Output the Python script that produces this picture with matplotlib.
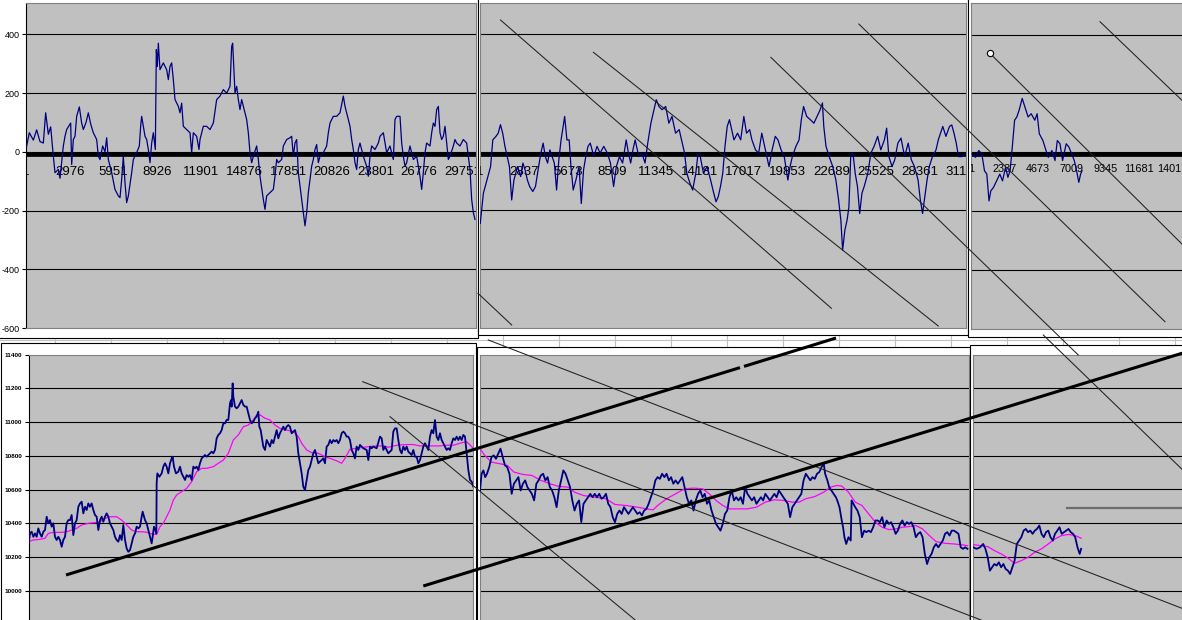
import matplotlib
matplotlib.use("Agg")
import matplotlib.pyplot as plt
from matplotlib.patches import Rectangle

plt.rcParams['font.family'] = ['Liberation Sans', 'DejaVu Sans']
plt.rcParams['axes.unicode_minus'] = False

W, H = 1182, 620

# === Data: (bar index, value) ===
osc_left = [(45,20),(227,65),(499,40),(726,75),(953,35),(1180,30),(1339,133),(1521,60),(1680,85),(1861,-15),(1975,-71),(2202,-60),(2315,-90),(2542,20),(2656,53),(2769,76),(3042,98),(3110,-43),(3223,42),(3337,53),(3450,121),(3632,153),(3791,98),(3904,76),(4086,100),(4245,133),(4404,95),(4585,65),(4812,42),(4926,-15),(5039,-26),(5221,20),(5380,0),(5493,48),(5607,-26),(5834,-71),(6061,-128),(6288,-150),(6401,-156),(6515,-94),(6628,-15),(6742,-105),(6855,-173),(6969,-150),(7196,-71),(7309,-26),(7536,-3),(7718,20),(7809,87),(7877,121),(7990,87),(8104,53),(8217,42),(8331,8),(8444,-37),(8558,30),(8671,65),(8808,8),(8876,348),(8944,291),(9012,370),(9125,280),(9352,303),(9466,291),(9579,280),(9693,246),(9806,291),(9920,303),(10033,246),(10147,178),(10374,155),(10487,133),(10601,166),(10714,87),(10941,76),(11168,65),(11282,-3),(11395,65),(11622,53),(11781,8),(11849,42),(12076,87),(12303,87),(12530,76),(12757,98),(12984,178),(13211,190),(13438,212),(13665,200),(13892,223),(14006,359),(14074,370),(14233,200),(14346,223),(14460,178),(14573,144),(14687,178),(14914,133),(15027,110),(15141,65),(15254,-3),(15368,-37),(15481,-15),(15708,20),(15822,-26),(15935,-83),(16162,-162),(16276,-196),(16389,-150),(16616,-139),(16843,-128),(16957,-83),(17070,-26),(17184,-37),(17411,-26),(17524,20),(17751,42),(17978,48),(18092,53),(18205,-15),(18319,30),(18432,42),(18546,-71),(18659,-117),(18773,-162),(18886,-207),(19000,-252),(19113,-207),(19227,-139),(19340,-94),(19454,-49),(19567,-26),(19681,8),(19794,25),(19908,-37),(20021,-15),(20248,-3),(20475,20),(20589,65),(20702,98),(20929,121),(21156,121),(21383,133),(21610,190),(21724,155),(21837,133),(21951,110),(22064,87),(22178,42),(22291,8),(22405,-37),(22518,-60),(22632,8),(22745,30),(22972,-15),(23199,-49),(23313,-83),(23426,-15),(23540,20),(23767,8),(23994,30),(24107,53),(24334,65),(24448,30),(24561,-3),(24788,20),(25015,-26),(25129,110),(25242,121),(25469,121),(25583,30),(25696,-15),(25810,-49),(25923,-37),(26150,20),(26377,-26),(26604,-15),(26718,-49),(26831,-83),(26945,-128),(27058,-71),(27172,-3),(27285,30),(27512,20),(27626,65),(27739,98),(27853,87),(27966,144),(28080,155),(28193,65),(28307,42),(28420,53),(28534,87),(28647,30),(28761,-26),(28874,-15),(29101,20),(29215,42),(29328,30),(29555,20),(29782,42),(30009,30),(30123,-15),(30236,-60),(30350,-162),(30463,-207),(30577,-230)]

osc_mid = [(16,-245),(218,-142),(450,-97),(682,-51),(826,40),(1029,52),(1174,63),(1319,92),(1463,63),(1608,18),(1753,-17),(1898,-51),(2042,-165),(2187,-97),(2419,-51),(2621,-85),(2766,-39),(2911,-63),(3056,-97),(3200,-119),(3403,-136),(3577,-119),(3779,-51),(3924,-5),(4069,29),(4214,-17),(4358,-39),(4503,6),(4648,-17),(4793,-39),(4937,-131),(5082,-28),(5227,40),(5458,120),(5603,40),(5748,40),(5864,-51),(6008,-131),(6182,-97),(6385,-51),(6530,-177),(6674,-63),(6819,-17),(6964,18),(7109,29),(7340,-17),(7543,18),(7745,-5),(7977,18),(8209,-5),(8411,-39),(8614,-119),(8788,-51),(8990,-17),(9193,-39),(9425,40),(9569,-5),(9714,-39),(9859,6),(10004,40),(10235,-17),(10438,-5),(10640,-39),(10814,29),(11017,97),(11219,143),(11364,177),(11538,154),(11741,143),(11972,154),(12175,97),(12377,120),(12609,63),(12841,75),(13043,29),(13188,-5),(13333,-74),(13535,-108),(13709,-131),(13912,-74),(14057,-5),(14201,-17),(14404,-74),(14636,-51),(14867,-97),(15070,-142),(15215,-171),(15359,-154),(15504,-119),(15649,-74),(15794,18),(15938,86),(16083,109),(16228,75),(16373,40),(16604,63),(16807,40),(17009,120),(17183,63),(17386,75),(17531,40),(17762,6),(17965,-5),(18167,63),(18399,6),(18631,-51),(18833,6),(19036,52),(19210,40),(19412,6),(19615,-17),(19847,-97),(19991,-51),(20136,-17),(20368,18),(20570,40),(20715,109),(20860,154),(21062,120),(21294,109),(21526,97),(21728,120),(21931,143),(22076,166),(22163,86),(22307,18),(22510,-17),(22742,-51),(22944,-97),(23118,-165),(23263,-233),(23378,-336),(23523,-268),(23668,-233),(23784,-188),(23900,-17),(24044,-5),(24189,-74),(24334,-119),(24479,-211),(24623,-142),(24768,-119),(25000,-74),(25202,-5),(25405,18),(25637,52),(25839,6),(26071,40),(26216,80),(26360,-17),(26563,-51),(26737,-28),(26939,29),(27142,46),(27374,-17),(27605,29),(27808,-28),(28010,-51),(28242,-97),(28387,-165),(28532,-211),(28676,-154),(28821,-97),(28966,-51),(29169,-17),(29400,6),(29545,40),(29690,63),(29835,86),(30037,52),(30269,86),(30414,91),(30558,63),(30703,29),(30848,-17),(31080,-17),(31282,-5)]

osc_right = [(63,-5),(313,-17),(536,6),(752,-5),(940,-63),(1100,-74),(1253,-165),(1378,-131),(1566,-119),(1782,-97),(2004,-74),(2192,-97),(2408,-51),(2568,-85),(2721,-63),(2874,18),(3035,109),(3188,120),(3348,143),(3564,183),(3751,154),(3974,120),(4190,131),(4440,109),(4600,131),(4754,63),(5004,40),(5220,6),(5380,-17),(5630,6),(5846,-28),(6006,40),(6194,29),(6375,-28),(6626,29),(6814,18),(7002,-5),(7189,-28),(7350,-63),(7503,-102),(7628,-74),(7726,-63)]

price_left = [(182,10281),(272,10340),(386,10350),(499,10320),(613,10340),(726,10320),(840,10370),(953,10340),(1067,10320),(1180,10350),(1294,10360),(1407,10439),(1521,10400),(1634,10419),(1748,10380),(1861,10400),(1975,10320),(2088,10301),(2202,10320),(2315,10301),(2429,10261),(2542,10301),(2656,10320),(2769,10400),(2883,10419),(2996,10419),(3110,10449),(3223,10330),(3337,10400),(3450,10419),(3564,10498),(3677,10518),(3791,10528),(3904,10459),(4018,10498),(4131,10479),(4245,10518),(4358,10498),(4472,10518),(4585,10479),(4699,10449),(4812,10439),(4926,10360),(5039,10419),(5153,10439),(5266,10409),(5380,10439),(5493,10459),(5607,10439),(5720,10400),(5834,10380),(5947,10360),(6061,10320),(6174,10301),(6288,10291),(6401,10330),(6515,10301),(6628,10390),(6742,10301),(6855,10251),(6969,10231),(7082,10241),(7196,10281),(7309,10320),(7423,10340),(7536,10380),(7650,10370),(7763,10380),(7877,10439),(7945,10469),(8104,10419),(8217,10400),(8331,10360),(8444,10320),(8558,10281),(8626,10320),(8717,10380),(8808,10360),(8876,10340),(8898,10637),(8944,10696),(9080,10676),(9239,10696),(9352,10736),(9466,10756),(9579,10736),(9693,10696),(9806,10756),(9920,10785),(9988,10795),(10079,10736),(10215,10696),(10374,10706),(10487,10736),(10601,10696),(10714,10676),(10828,10657),(10941,10686),(11055,10676),(11168,10686),(11282,10657),(11395,10736),(11509,10726),(11622,10736),(11736,10716),(11849,10756),(11963,10785),(12076,10795),(12190,10805),(12303,10795),(12417,10805),(12530,10815),(12644,10825),(12757,10815),(12871,10835),(12984,10904),(13098,10924),(13211,10934),(13325,10953),(13438,10993),(13552,10993),(13665,11013),(13779,11013),(13892,11112),(13960,11131),(14006,11092),(14074,11230),(14119,11151),(14233,11092),(14346,11082),(14460,11092),(14573,11112),(14687,11131),(14800,11102),(14914,11092),(15027,11092),(15141,11052),(15254,11013),(15368,10993),(15481,11003),(15595,11023),(15708,11033),(15822,11062),(15890,10973),(15981,10953),(16094,10894),(16162,10855),(16276,10835),(16389,10894),(16503,10875),(16616,10855),(16730,10894),(16843,10875),(16957,10914),(17070,10953),(17184,10904),(17297,10934),(17411,10953),(17524,10973),(17638,10953),(17751,10973),(17865,10983),(17978,10973),(18092,10934),(18205,10944),(18319,10953),(18432,10914),(18546,10815),(18659,10756),(18773,10696),(18886,10617),(19000,10597),(19113,10657),(19227,10716),(19340,10736),(19454,10775),(19567,10815),(19681,10835),(19794,10795),(19908,10756),(20021,10766),(20135,10775),(20248,10785),(20362,10756),(20475,10855),(20589,10865),(20702,10894),(20816,10875),(20929,10894),(21043,10885),(21156,10894),(21270,10875),(21383,10894),(21497,10934),(21610,10944),(21724,10934),(21837,10914),(21951,10914),(22064,10894),(22178,10835),(22291,10815),(22405,10785),(22518,10855),(22632,10835),(22745,10865),(22972,10845),(23199,10835),(23313,10775),(23426,10855),(23540,10845),(23653,10855),(23880,10845),(24107,10914),(24221,10904),(24334,10835),(24448,10855),(24561,10835),(24675,10815),(24788,10825),(24902,10835),(25015,10944),(25129,10963),(25242,10963),(25356,10894),(25469,10835),(25583,10815),(25696,10855),(25810,10835),(25923,10855),(26037,10825),(26150,10815),(26264,10805),(26377,10835),(26491,10795),(26604,10795),(26718,10756),(26831,10775),(26945,10815),(27058,10855),(27172,10875),(27285,10855),(27399,10835),(27512,10914),(27626,10953),(27739,10934),(27853,11013),(27966,10914),(28080,10894),(28193,10934),(28307,10894),(28420,10875),(28534,10855),(28647,10835),(28761,10845),(28874,10835),(28988,10875),(29101,10904),(29215,10894),(29328,10914),(29442,10894),(29555,10914),(29669,10894),(29782,10924),(29896,10914),(30009,10815),(30123,10716),(30236,10657),(30350,10647),(30463,10617)]

avg_left = [(182,10291),(499,10301),(953,10305),(1294,10311),(1521,10340),(1861,10346),(2429,10346),(2769,10350),(3110,10360),(3450,10370),(3791,10390),(4245,10400),(4699,10404),(5039,10409),(5380,10429),(5720,10439),(6174,10439),(6515,10419),(6855,10390),(7196,10360),(7536,10350),(7990,10350),(8331,10344),(8671,10334),(8898,10334),(9125,10380),(9352,10400),(9579,10439),(9806,10479),(10033,10538),(10260,10568),(10601,10588),(10941,10607),(11282,10647),(11622,10706),(11963,10726),(12303,10726),(12757,10736),(13098,10756),(13438,10775),(13779,10815),(14119,10894),(14460,10924),(14800,10973),(15141,10983),(15481,11013),(15708,11043),(15935,11043),(16276,11023),(16616,11013),(16957,10983),(17297,10963),(17751,10953),(18205,10944),(18546,10914),(18773,10875),(19113,10835),(19454,10819),(19908,10815),(20362,10795),(20702,10785),(21156,10771),(21497,10756),(21724,10785),(22064,10839),(22518,10845),(22972,10851),(23426,10855),(23880,10859),(24334,10859),(24675,10851),(25015,10859),(25469,10865),(25923,10867),(26377,10867),(26831,10859),(27285,10859),(27739,10859),(28193,10859),(28647,10863),(29101,10863),(29555,10875),(30009,10884),(30463,10845)]

price_mid = [(0,10594),(103,10693),(218,10713),(334,10673),(450,10693),(595,10733),(740,10792),(884,10802),(1029,10782),(1174,10812),(1319,10842),(1463,10792),(1608,10743),(1753,10733),(1898,10693),(2042,10574),(2187,10634),(2332,10654),(2477,10673),(2621,10594),(2766,10634),(2911,10654),(3056,10614),(3200,10594),(3345,10574),(3490,10535),(3635,10634),(3779,10654),(3924,10683),(4069,10693),(4214,10654),(4358,10673),(4503,10614),(4648,10594),(4793,10554),(4937,10495),(5082,10594),(5227,10654),(5372,10713),(5516,10693),(5661,10654),(5806,10614),(5951,10535),(6095,10475),(6240,10515),(6385,10535),(6530,10406),(6674,10515),(6819,10535),(6964,10554),(7109,10574),(7253,10554),(7398,10574),(7543,10554),(7688,10574),(7832,10545),(7977,10554),(8122,10574),(8267,10515),(8411,10495),(8556,10436),(8701,10406),(8846,10455),(8990,10475),(9135,10455),(9280,10495),(9425,10475),(9569,10455),(9714,10475),(9859,10495),(10004,10475),(10148,10455),(10293,10465),(10438,10446),(10583,10475),(10727,10485),(10872,10515),(11017,10554),(11162,10594),(11306,10654),(11451,10673),(11596,10663),(11741,10693),(11885,10673),(12030,10693),(12175,10654),(12320,10673),(12464,10634),(12609,10654),(12754,10634),(12899,10654),(13043,10673),(13188,10614),(13333,10554),(13478,10515),(13622,10535),(13767,10475),(13912,10535),(14057,10574),(14201,10594),(14346,10554),(14491,10574),(14636,10515),(14780,10535),(14925,10475),(15070,10436),(15215,10396),(15359,10376),(15504,10356),(15649,10396),(15794,10455),(15938,10475),(16083,10554),(16228,10594),(16373,10535),(16517,10554),(16662,10535),(16807,10554),(16952,10515),(17096,10614),(17241,10574),(17386,10554),(17531,10535),(17675,10554),(17820,10515),(17965,10535),(18110,10554),(18254,10535),(18399,10574),(18544,10554),(18689,10535),(18833,10554),(18978,10574),(19123,10554),(19268,10594),(19412,10574),(19557,10554),(19702,10535),(19847,10515),(19991,10436),(20136,10495),(20281,10515),(20426,10535),(20570,10554),(20715,10574),(20860,10654),(21005,10693),(21149,10673),(21294,10654),(21439,10673),(21584,10663),(21728,10693),(21873,10703),(22018,10733),(22163,10752),(22250,10693),(22394,10654),(22510,10614),(22655,10594),(22799,10574),(22944,10554),(23031,10535),(23176,10495),(23321,10416),(23408,10376),(23494,10317),(23610,10277),(23755,10317),(23900,10297),(23957,10535),(24073,10515),(24189,10495),(24334,10475),(24479,10436),(24623,10317),(24768,10356),(24913,10347),(25058,10356),(25202,10347),(25347,10376),(25492,10416),(25637,10416),(25781,10406),(25926,10436),(26071,10376),(26216,10416),(26360,10396),(26505,10406),(26650,10376),(26795,10337),(26939,10356),(27084,10396),(27229,10416),(27374,10386),(27518,10406),(27663,10396),(27808,10406),(27953,10376),(28097,10317),(28242,10337),(28387,10347),(28532,10317),(28676,10218),(28821,10158),(28966,10198),(29111,10218),(29255,10257),(29400,10277),(29545,10257),(29690,10277),(29835,10297),(29979,10337),(30124,10347),(30269,10327),(30414,10356),(30558,10356),(30703,10347),(30848,10337),(30992,10257),(31137,10248),(31282,10257),(31427,10248)]

avg_mid = [(0,10842),(305,10802),(740,10762),(1319,10752),(1753,10743),(2187,10703),(2766,10689),(3345,10683),(3924,10654),(4503,10634),(5082,10618),(5661,10614),(6095,10584),(6674,10564),(7398,10554),(8122,10545),(8701,10511),(9425,10505),(10148,10495),(10727,10485),(11162,10479),(11451,10505),(12030,10545),(12609,10574),(13188,10604),(13767,10608),(14346,10604),(14780,10574),(15215,10535),(15649,10505),(16083,10485),(16662,10485),(17241,10485),(17820,10495),(18399,10525),(18978,10539),(19557,10535),(20136,10525),(20570,10525),(21005,10545),(21584,10558),(22163,10584),(22597,10614),(23031,10624),(23321,10620),(23755,10584),(24189,10525),(24623,10505),(25058,10455),(25492,10406),(25926,10376),(26360,10362),(26795,10366),(27229,10376),(27663,10380),(28097,10386),(28532,10366),(28966,10327),(29400,10291),(29979,10281),(30558,10277),(31137,10271),(31427,10267)]

price_right = [(160,10257),(378,10248),(628,10257),(847,10277),(1002,10248),(1162,10198),(1316,10119),(1471,10139),(1627,10158),(1782,10149),(1939,10168),(2095,10139),(2255,10158),(2408,10129),(2568,10119),(2721,10099),(2881,10139),(3035,10178),(3188,10277),(3348,10297),(3501,10317),(3661,10356),(3814,10366),(3974,10347),(4127,10356),(4287,10337),(4440,10356),(4594,10366),(4754,10386),(4907,10337),(5067,10317),(5220,10347),(5380,10356),(5533,10317),(5693,10297),(5846,10337),(6006,10356),(6160,10376),(6313,10337),(6473,10347),(6626,10356),(6786,10366),(6939,10347),(7099,10337),(7252,10317),(7412,10257),(7565,10218),(7663,10248)]

avg_right = [(160,10273),(689,10267),(1162,10261),(1627,10238),(2095,10218),(2568,10194),(3035,10162),(3501,10178),(3974,10198),(4440,10228),(4907,10248),(5380,10277),(5846,10307),(6313,10327),(6786,10333),(7252,10327),(7663,10311)]

cat_left = [1, 2976, 5951, 8926, 11901, 14876, 17851, 20826, 23801, 26776, 29751]
cat_mid = [1, 2837, 5673, 8509, 11345, 14181, 17017, 19853, 22689, 25525, 28361, 31197]
cat_right = [1, 2337, 4673, 7009, 9345, 11681, 14017, 16353]
osc_ticks = [-600, -400, -200, 0, 200, 400]
price_ticks = [10000, 10200, 10400, 10600, 10800, 11000, 11200, 11400]

# hand drawn trend lines on the sheet, screen pixels (x0, y0, x1, y1)
thin_lines = [(500.5, 20, 831.4, 308.3), (593.4, 52.3, 938.3, 326), (770.8, 57.3, 1078.3, 355),
              (858.8, 24, 1165, 321.7), (989.9, 53.3, 1190, 252), (1100, 21.7, 1190, 108),
              (478, 293.3, 511.7, 325), (488.3, 340, 1190, 611.4), (362.7, 381.7, 981, 620),
              (390, 416.7, 635.2, 620), (1043.3, 335, 1190, 477)]
thick_lines = [(66, 575, 740, 367.6), (744, 366.4, 836, 338), (423.3, 586, 1190, 350.8)]
grey_lines = [(1067, 507.7, 1182, 507.7)]
circle_pt = (989.9, 53.3)

fig = plt.figure(figsize=(W / 100, H / 100), dpi=100)
fig.patch.set_facecolor('white')

# === sheet cell grid behind the charts ===
sheet = fig.add_axes([0, 0, 1, 1], zorder=0)
sheet.set_xlim(0, W)
sheet.set_ylim(H, 0)
sheet.axis('off')
sheet.plot([0, W], [340, 340], color='#C0C0C0', lw=0.8)
for k in range(22):
    sheet.plot([55 + 56 * k] * 2, [336, 347], color='#C0C0C0', lw=0.8)
sheet.plot([0, W], [1.2, 1.2], color='#A0A0A0', lw=0.8)


def frame(x0, y0, x1, y1, z):
    fig.add_artist(Rectangle((x0 / W, 1 - y1 / H), (x1 - x0) / W, (y1 - y0) / H,
                             transform=fig.transFigure, facecolor='white',
                             edgecolor='black', lw=0.8, zorder=z))


def panel(box, xlim, ylim, ticks, z):
    x0, y0, x1, y1 = box
    ax = fig.add_axes([x0 / W, 1 - y1 / H, (x1 - x0) / W, (y1 - y0) / H], zorder=z)
    ax.set_facecolor('#C0C0C0')
    ax.set_xlim(xlim)
    ax.set_ylim(ylim)
    for s in ax.spines.values():
        s.set_color('#808080')
        s.set_linewidth(0.8)
    ax.set_xticks([])
    ax.set_yticks(ticks)
    ax.grid(axis='y', color='black', lw=0.8)
    ax.set_axisbelow(True)
    ax.tick_params(axis='y', left=False, labelleft=False)
    return ax


def cat_labels(ax, cats, ypos, size):
    for c in cats:
        t = ax.text(c, ypos, str(c), ha='center', va='center', fontsize=size, color='black')
        t.set_clip_on(True)
        t.set_clip_box(ax.bbox)


def draw(ax, pts, color, lw):
    xs, ys = zip(*pts)
    ax.plot(xs, ys, color=color, lw=lw, zorder=3)


osc_lim = (-600, 507)
price_lim = (9352, 11400)

# === top row: oscillator ===
frame(-5, -5, 478, 337.7, 1)
ax1 = panel((26, 3, 476, 328), (0, 30645), osc_lim, osc_ticks, 2)
ax1.spines['left'].set_color('black')
ax1.tick_params(axis='y', left=True, labelleft=True, labelsize=6.5, length=3, pad=1.5, direction='out')
cat_labels(ax1, cat_left, -69, 9.5)
draw(ax1, osc_left, '#000080', 0.9)

frame(478, -5, 967.7, 335, 3)
ax2 = panel((480, 3, 966, 327.5), (0, 31332), osc_lim, osc_ticks, 4)
cat_labels(ax2, cat_mid, -69, 9.5)
draw(ax2, osc_mid, '#000080', 0.9)

frame(967.7, -5, 1200, 336.7, 5)
ax3 = panel((971, 3, 1230, 329), (0, 18026), osc_lim, osc_ticks, 6)
cat_labels(ax3, cat_right, -55, 7.8)
draw(ax3, osc_right, '#000080', 0.9)

for ax in (ax1, ax2, ax3):
    ax.get_ygridlines()[0].set_visible(False)
    ax.axhline(-7, color='black', lw=3.4, zorder=2)

# === bottom row: price with moving average ===
frame(0.5, 343.3, 476, 700, 7)
ax4 = panel((28.7, 354.7, 473.3, 700), (184, 30462), price_lim, price_ticks, 8)
ax4.spines['left'].set_color('black')
ax4.tick_params(axis='y', left=True, labelleft=True, labelsize=4.6, length=3, pad=1.5, direction='out')
for lab in ax4.get_yticklabels():
    lab.set_fontweight('bold')

frame(476.7, 346.7, 970, 700, 9)
ax5 = panel((480, 354.5, 969, 700), (0, 31525), price_lim, price_ticks, 10)

frame(970, 345, 1200, 700, 11)
ax6 = panel((973.3, 354.5, 1230, 700), (160, 18026), price_lim, price_ticks, 12)

for ax, price, avg in ((ax4, price_left, avg_left), (ax5, price_mid, avg_mid), (ax6, price_right, avg_right)):
    ax.get_ygridlines()[-1].set_visible(False)
    ax.axhline(9800, color='black', lw=0.8, zorder=1)
    draw(ax, avg, '#FF00FF', 0.9)
    draw(ax, price, '#000080', 1.3)

# === drawn lines on top of everything ===
over = fig.add_axes([0, 0, 1, 1], zorder=50)
over.set_xlim(0, W)
over.set_ylim(H, 0)
over.axis('off')
over.patch.set_alpha(0)
for x0, y0, x1, y1 in thin_lines:
    over.plot([x0, x1], [y0, y1], color='#202020', lw=0.75)
for x0, y0, x1, y1 in thick_lines:
    over.plot([x0, x1], [y0, y1], color='black', lw=2.2, solid_capstyle='butt')
for x0, y0, x1, y1 in grey_lines:
    over.plot([x0, x1], [y0, y1], color='#6E6E6E', lw=1.6)
over.plot([circle_pt[0]], [circle_pt[1]], 'o', ms=4.5, mfc='white', mec='black', mew=0.8)

fig.savefig('out.png', dpi=100)
